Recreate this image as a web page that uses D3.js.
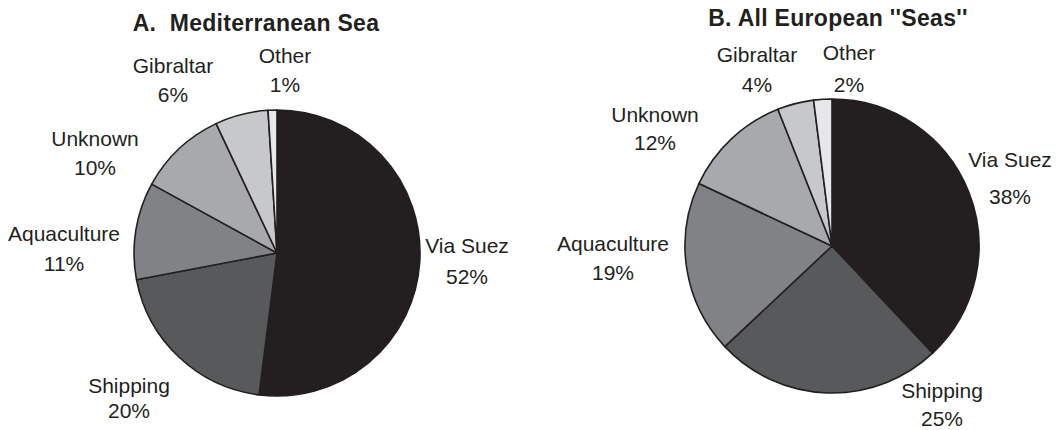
<!DOCTYPE html>
<html>
<head>
<meta charset="utf-8">
<script src="https://cdn.jsdelivr.net/npm/d3@7"></script>
<style>
  body { margin: 0; background: #fff; }
  text { font-family: "Liberation Sans", Arial, sans-serif; fill: #231f20; }
</style>
</head>
<body>
<script>
// data
var categories = ["Via Suez", "Shipping", "Aquaculture", "Unknown", "Gibraltar", "Other"];
var mediterranean = [52, 20, 11, 10, 6, 1];
var allEurope = [38, 25, 19, 12, 4, 2];
var titles = ["A.  Mediterranean Sea", "B. All European ''Seas''"];

// greys from dark to light
var color = d3.scaleOrdinal()
    .domain(categories)
    .range(["#231f20", "#58595b", "#808285", "#a7a9ac", "#c7c8ca", "#e6e7e8"]);

var width = 1056, height = 430;

var svg = d3.select("body").append("svg")
    .attr("width", width)
    .attr("height", height);

// where each pie sits and where its labels go (offset from pie centre: dx, dy, line gap)
var charts = [
  { values: mediterranean, title: titles[0], cx: 277, cy: 253, r: 143, titleX: 256, titleY: 31,
    labels: [[190, 0, 31], [-148, 140, 25], [-213, -12, 30], [-182, -107, 29], [-104, -180, 29], [8, -190, 29]] },
  { values: allEurope, title: titles[1], cx: 832, cy: 246, r: 147, titleX: 838, titleY: 26,
    labels: [[178, -79, 37], [110, 152, 28], [-219, 5, 29], [-177, -124, 28], [-75, -184, 30], [17, -186, 32]] }
];

var pie = d3.pie().sort(null).value(function(d) { return d.value; });

charts.forEach(function(c) {
  var data = categories.map(function(k, i) { return { name: k, value: c.values[i] }; });
  var arc = d3.arc().innerRadius(0).outerRadius(c.r);

  svg.append("text")
      .attr("x", c.titleX)
      .attr("y", c.titleY)
      .attr("text-anchor", "middle")
      .style("font-size", "23px")
      .style("font-weight", "bold")
      .style("letter-spacing", "0.3px")
      .style("white-space", "pre")
      .text(c.title);

  var g = svg.append("g")
      .attr("transform", "translate(" + c.cx + "," + c.cy + ")");

  g.selectAll("path")
      .data(pie(data))
      .enter().append("path")
      .attr("d", arc)
      .attr("fill", function(d) { return color(d.data.name); })
      .attr("stroke", "#231f20")
      .attr("stroke-width", 1.6)
      .attr("stroke-linejoin", "round");

  var lab = g.selectAll(".lab")
      .data(data)
      .enter().append("text")
      .attr("class", "lab")
      .attr("text-anchor", "middle")
      .style("font-size", "21px");

  lab.append("tspan")
      .attr("x", function(d, i) { return c.labels[i][0]; })
      .attr("y", function(d, i) { return c.labels[i][1]; })
      .text(function(d) { return d.name; });

  lab.append("tspan")
      .attr("x", function(d, i) { return c.labels[i][0]; })
      .attr("y", function(d, i) { return c.labels[i][1] + c.labels[i][2]; })
      .text(function(d) { return d.value + "%"; });
});
</script>
</body>
</html>
